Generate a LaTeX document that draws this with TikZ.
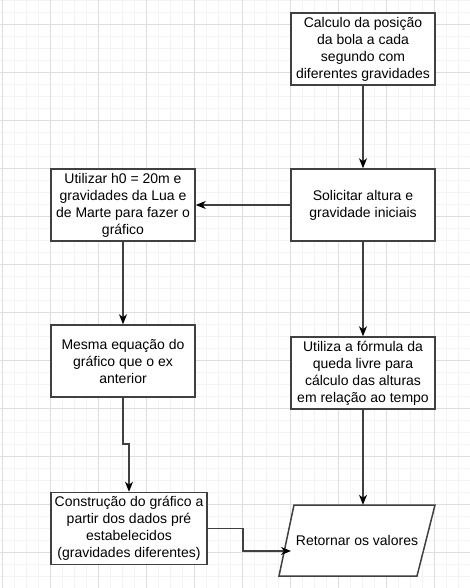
\documentclass[tikz,border=0pt]{standalone}
\usepackage{fontspec}
\setmainfont{Liberation Sans}
\usetikzlibrary{arrows.meta}
\definecolor{gridmajor}{RGB}{222,222,222}
\definecolor{gridminor}{RGB}{243,243,243}
\definecolor{edgegray}{RGB}{64,64,64}
\begin{document}
\begin{tikzpicture}
    [x=1pt,y=-1pt,font=\fontsize{14}{17}\selectfont,
     box/.style={shape=rectangle,draw=edgegray,line width=1.5pt,fill=white,
       align=center,inner sep=2pt,minimum width=144,minimum height=72},
     slant/.style={draw=edgegray,line width=1.5pt,fill=white,line join=miter},
     pre/.style={<-,draw=edgegray,line width=1.2pt,
       >={Stealth[length=10pt,width=8pt,inset=3pt,color=black]}},
     post/.style={->,draw=edgegray,line width=1.2pt,
       >={Stealth[length=10pt,width=8pt,inset=3pt,color=black]}}]
    \useasboundingbox (0,0) rectangle (470,588);
    \fill[white] (0,0) rectangle (470,588);
    \foreach \x in {2,14,...,470} \draw[gridminor,line width=0.75pt] (\x,0) -- (\x,588);
    \foreach \y in {0,12,...,588} \draw[gridminor,line width=0.75pt] (0,\y) -- (470,\y);
    \foreach \x in {2,50,...,470} \draw[gridmajor,line width=0.75pt] (\x,0) -- (\x,588);
    \foreach \y in {24,72,...,588} \draw[gridmajor,line width=0.75pt] (0,\y) -- (470,\y);
    \node [box] (calc) at (363,49) {Calculo da posição\\da bola a cada\\segundo com\\diferentes gravidades};
    \node [box] (solic) at (363,205) {Solicitar altura e\\gravidade iniciais}
      edge [pre] (calc);
    \node [box] (util) at (123,205) {Utilizar h0 = 20m e\\gravidades da Lua e\\de Marte para fazer o\\gráfico}
      edge [pre] (solic);
    \node [box] (mesma) at (123,361) {Mesma equação do\\gráfico que o ex\\anterior}
      edge [pre] (util);
    \node [box] (form) at (363,373) {Utiliza a fórmula da\\queda livre para\\cálculo das alturas\\em relação ao tempo}
      edge [pre] (solic);
    \node [box,minimum width=156] (constr) at (129,528.5) {Construção do gráfico a\\partir dos dados pré\\estabelecidos\\(gravidades diferentes)};
    % parallelogram drawn by hand, text node on top
    \draw [slant] (279,576) -- (294,505) -- (435,505) -- (417,576) -- cycle;
    \node [align=center,inner sep=0pt,minimum width=138,minimum height=71] (ret) at (357,540.5) {Retornar os valores};
    \coordinate (jog) at (129,444);
    \coordinate (bend) at (243,551);
    \coordinate (tip) at (291,551);
    \draw [post] (mesma.south) |- (jog) -- (constr.north);
    \draw [post] (form.south) -- (form.south |- ret.north);
    \draw [post] (constr.east) -| (bend) -- (tip);
  \end{tikzpicture}
\end{document}
